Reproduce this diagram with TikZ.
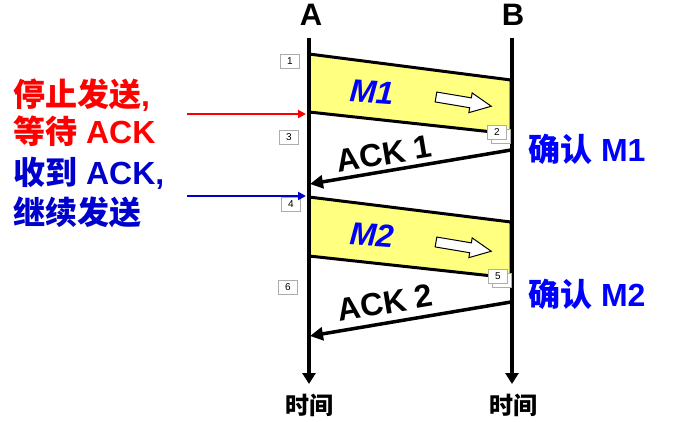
\documentclass[tikz,border=0pt]{standalone}
\usepackage{fontspec}
\setmainfont{Liberation Sans}
\newfontfamily\cjk{Noto Sans CJK SC}
\usetikzlibrary{arrows.meta}
\definecolor{myyellow}{RGB}{255,255,128}
\definecolor{myblue}{RGB}{0,0,204}
\definecolor{mblue}{RGB}{0,0,255}
\begin{document}
\begin{tikzpicture}[x=1pt,y=-1pt,
  timeline/.style={line width=4pt,-{Triangle[length=11pt,width=13pt]}},
  msgbox/.style={fill=myyellow,draw=black,line width=3pt,line join=miter},
  ackline/.style={line width=3.5pt,-{Triangle[length=13pt,width=13pt]}},
  numbox/.style={draw=gray!65,fill=white,line width=0.7pt,minimum width=19pt,minimum height=14pt,inner sep=0pt,font=\fontsize{10}{10}\selectfont},
  pointer/.style={line width=2pt,-{Triangle[length=8pt,width=8pt]}},
  hollow/.style={draw=black,line width=1pt,fill=white,line join=miter},
  endlbl/.style={font=\fontsize{31}{31}\selectfont\bfseries},
  msglbl/.style={font=\fontsize{32}{32}\selectfont\bfseries\itshape,text=mblue},
  acklbl/.style={font=\fontsize{32}{32}\selectfont\bfseries},
  sidelbl/.style={anchor=west,inner sep=0pt,font=\fontsize{32}{32}\selectfont\bfseries},
  conflbl/.style={font=\fontsize{32}{32}\selectfont\bfseries,text=mblue},
  timelbl/.style={font=\cjk\fontsize{24}{24}\selectfont\bfseries}
]
\useasboundingbox (0,0) rectangle (697,421);
% coordinates
\coordinate (Atop) at (309,38);
\coordinate (Abot) at (309,384);
\coordinate (Btop) at (512,38);
\coordinate (Bbot) at (512,384);
% message boxes
\path[msgbox] (309,54) coordinate (m1a) -- (511,80) coordinate (m1b) -- (511,134) coordinate (m1c) -- (309,112) coordinate (m1d) -- cycle;
\path[msgbox] (309,197) coordinate (m2a) -- (511,222) coordinate (m2b) -- (511,278) coordinate (m2c) -- (309,256) coordinate (m2d) -- cycle;
% hollow arrows
\begin{scope}[shift={(436,97)},rotate=-9.5]
\path[hollow] (0,-5) -- (35,-5) -- (35,-10) -- (56,0) -- (35,10) -- (35,5) -- (0,5) -- cycle;
\end{scope}
\begin{scope}[shift={(436,242)},rotate=-9.5]
\path[hollow] (0,-5) -- (35,-5) -- (35,-10) -- (56,0) -- (35,10) -- (35,5) -- (0,5) -- cycle;
\end{scope}
% timelines
\draw[timeline] (Atop) -- (Abot);
\draw[timeline] (Btop) -- (Bbot);
% labels A B
\node[endlbl] (lA) at (311,15) {A};
\node[endlbl] (lB) at (513,15) {B};
% message labels
\node[msglbl,rotate=-4] (M1) at (372,92) {M1};
\node[msglbl,rotate=-4] (M2) at (372,235) {M2};
% ack arrows
\coordinate (B1) at (511,150);
\coordinate (A1) at (310,184);
\coordinate (B2) at (511,302);
\coordinate (A2) at (310,336);
\draw[ackline] (B1) -- (A1);
\draw[ackline] (B2) -- (A2);
\node[acklbl,rotate=9.5,inner sep=1pt] (ack1) at (384,154) {ACK 1};
\node[acklbl,rotate=9.5,inner sep=1pt] (ack2) at (385,303) {ACK 2};
% number boxes
\node[numbox] (n1) at (290,61) {1};
\node[numbox] at (501,136) {};
\node[numbox] (n2) at (497,132) {2};
\node[numbox] (n3) at (289,137) {3};
\node[numbox] (n4) at (291,204) {4};
\node[numbox] at (502,280) {};
\node[numbox] (n5) at (498,276) {5};
\node[numbox] (n6) at (288,287) {6};
% confirmations
\node[conflbl,anchor=west,inner sep=0pt] (c1) at (528,149) {{\cjk 确认} M1};
\node[conflbl,anchor=west,inner sep=0pt] (c2) at (528,294) {{\cjk 确认} M2};
% side labels
\node[sidelbl,text=red] (s1) at (13,95) {{\cjk 停止发送},};
\node[sidelbl,text=red] (s2) at (13,131) {{\cjk 等待} ACK};
\node[sidelbl,text=myblue] (s3) at (13,173) {{\cjk 收到} ACK,};
\node[sidelbl,text=myblue] (s4) at (13,212) {{\cjk 继续发送}};
\coordinate (pr) at (306,114);
\coordinate (pb) at (306,196);
\draw[pointer,red] (187,114) coordinate (pr0) -- (pr);
\draw[pointer,myblue] (187,196) coordinate (pb0) -- (pb);
% time labels
\node[timelbl] (t1) at (309,405) {时间};
\node[timelbl] (t2) at (513,405) {时间};
\end{tikzpicture}
\end{document}
